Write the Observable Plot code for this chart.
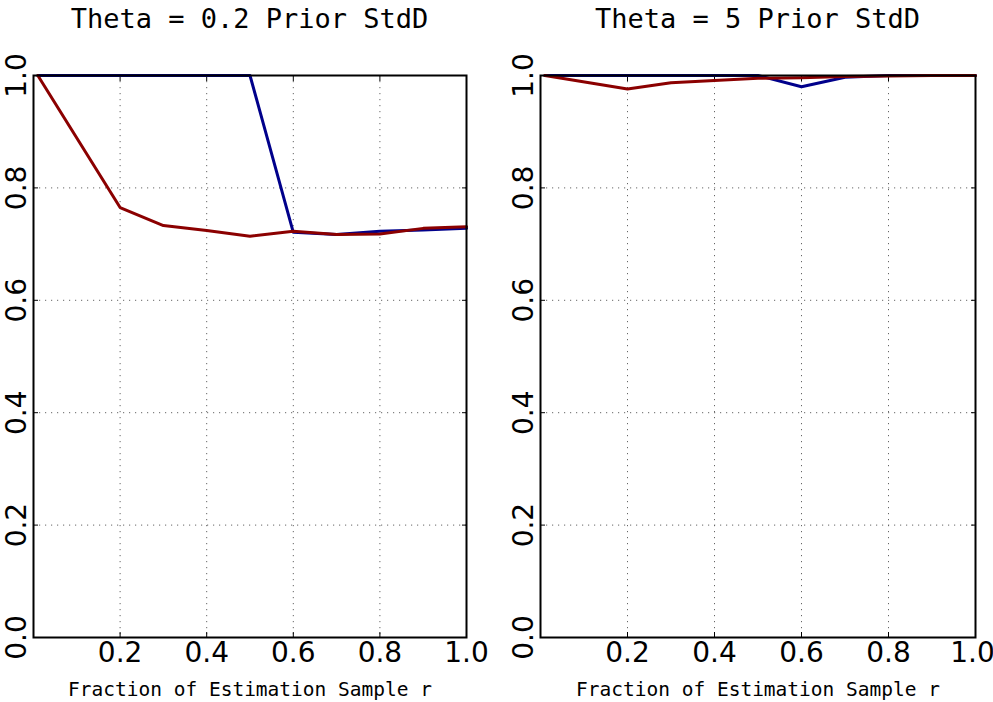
<!DOCTYPE html>
<html><head><meta charset="utf-8">
<script src="https://cdn.jsdelivr.net/npm/d3@7"></script>
<script src="https://cdn.jsdelivr.net/npm/@observablehq/plot@0.6"></script>
<style>
body{margin:0;background:#fff;width:993px;height:702px;overflow:hidden;font-family:"DejaVu Sans",sans-serif;}
#wrap{position:relative;width:993px;height:702px;}
.panel{position:absolute;top:0;}
.title{position:absolute;top:1px;font-family:"DejaVu Sans Mono",monospace;font-size:27px;text-align:center;color:#000;line-height:36px;}
</style></head>
<body><div id="wrap"></div>
<script>
const r = [0.01, 0.2, 0.3, 0.4, 0.5, 0.6, 0.7, 0.8, 0.9, 1.0];
const leftBlue = [1, 1, 1, 1, 1, 0.721, 0.717, 0.723, 0.725, 0.728];
const leftRed = [1, 0.765, 0.733, 0.724, 0.714, 0.723, 0.717, 0.718, 0.728, 0.731];
const rightBlue = [1, 1, 1, 1, 1, 0.980, 0.997, 1, 1, 1];
const rightRed = [1, 0.976, 0.987, 0.991, 0.995, 0.996, 0.998, 0.999, 1, 1];
const titles = ["Theta = 0.2 Prior StdD", "Theta = 5 Prior StdD"];
const xLabel = "Fraction of Estimation Sample r";
const xTicks = [0.2, 0.4, 0.6, 0.8, 1.0];
const gridTicks = [0.2, 0.4, 0.6, 0.8];
const yTicks = [0, 0.2, 0.4, 0.6, 0.8, 1.0];
const blueColor = "#00008b", redColor = "#8b0000";

function panel(blue, red, left, width, mL, mR, title, lastShift) {
  const bd = r.map((x, i) => ({x, y: blue[i]}));
  const rd = r.map((x, i) => ({x, y: red[i]}));
  const fmt = d3.format(".1f");
  const p = Plot.plot({
    width, height: 702,
    marginTop: 75, marginBottom: 65, marginLeft: mL, marginRight: mR,
    style: {fontFamily: "DejaVu Sans, sans-serif", background: "#fff", overflow: "visible"},
    x: {domain: [0, 1]},
    y: {domain: [0, 1]},
    marks: [
      Plot.gridX(gridTicks, {stroke: "#666", strokeOpacity: 1, strokeDasharray: "1.2,4.8", strokeWidth: 1}),
      Plot.gridY([0.2, 0.4, 0.6, 0.8], {stroke: "#666", strokeOpacity: 1, strokeDasharray: "1.2,4.8", strokeWidth: 1}),
      Plot.text(xTicks.filter(d => d < 1), {x: d => d, text: d => fmt(d), frameAnchor: "bottom", lineAnchor: "top", dy: 5, fontSize: 28, fill: "#000"}),
      Plot.text(xTicks.filter(d => d === 1), {x: d => d, text: d => fmt(d), frameAnchor: "bottom", lineAnchor: "top", dy: 5, dx: lastShift, fontSize: 28, fill: "#000"}),
      Plot.axisX(gridTicks, {anchor: "bottom", tickSize: -5, tickFormat: () => "", label: null}),
      Plot.axisX(gridTicks, {anchor: "top", tickSize: -5, tickFormat: () => "", label: null}),
      Plot.axisY([0.2, 0.4, 0.6, 0.8], {anchor: "left", tickSize: -5, tickFormat: () => "", label: null}),
      Plot.axisY([0.2, 0.4, 0.6, 0.8], {anchor: "right", tickSize: -5, tickFormat: () => "", label: null}),
      Plot.text(yTicks, {y: d => d, text: d => fmt(d), frameAnchor: "left", dx: -16, rotate: -90, fontSize: 28, textAnchor: "middle", fill: "#000"}),
      Plot.text([xLabel], {frameAnchor: "bottom", lineAnchor: "bottom", dy: 58, fontSize: 19.5, fontFamily: "DejaVu Sans Mono, monospace", fill: "#000"}),
      Plot.lineY(bd, {x: "x", y: "y", stroke: blueColor, strokeWidth: 3}),
      Plot.lineY(rd, {x: "x", y: "y", stroke: redColor, strokeWidth: 3}),
      Plot.frame({stroke: "#000", strokeWidth: 2})
    ]
  });
  p.classList.add("panel");
  p.style.left = left + "px";
  const wrap = document.getElementById("wrap");
  wrap.appendChild(p);
  const t = document.createElement("div");
  t.className = "title";
  t.textContent = title;
  t.style.left = (left + mL) + "px";
  t.style.width = (width - mL - mR) + "px";
  wrap.appendChild(t);
}
panel(leftBlue, leftRed, 0, 490, 33, 24, titles[0], 0);
panel(rightBlue, rightRed, 497, 496, 43, 18, titles[1], -3);
</script></body></html>
